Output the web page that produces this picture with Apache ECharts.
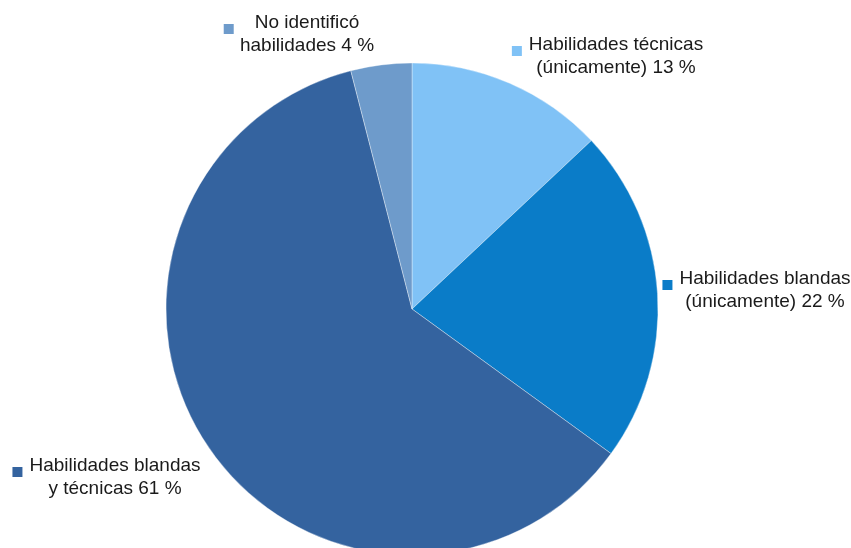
<!DOCTYPE html>
<html>
<head>
<meta charset="utf-8">
<script src="https://cdn.jsdelivr.net/npm/echarts@6/dist/echarts.min.js"></script>
<style>
html,body{margin:0;padding:0;background:#fff;}
#chart{width:851px;height:548px;}
</style>
</head>
<body>
<div id="chart"></div>
<script>
const categories = ["Habilidades técnicas (únicamente)", "Habilidades blandas (únicamente)", "Habilidades blandas y técnicas", "No identificó habilidades"];
const values = [13, 22, 61, 4];
const labelLines = [
  ["Habilidades técnicas", "(únicamente) 13 %"],
  ["Habilidades blandas", "(únicamente) 22 %"],
  ["Habilidades blandas", "y técnicas 61 %"],
  ["No identificó", "habilidades 4 %"]
];
const colors = ["#80C2F6", "#0A7CC8", "#34639F", "#6E9BCB"];
const labelPos = [[616, 56], [765, 290], [115, 477], [307, 34]];
const markerGap = [7, 7, 7, 21];

const chart = echarts.init(document.getElementById('chart'));
chart.setOption({
  animation: false,
  backgroundColor: '#ffffff',
  series: [{
    type: 'pie',
    center: [412, 309],
    radius: 246,
    startAngle: 90,
    clockwise: true,
    data: categories.map((c, i) => ({
      name: c,
      value: values[i],
      itemStyle: { color: colors[i] },
      label: {
        rich: {
          m: { width: 10, height: 10, backgroundColor: colors[i], verticalAlign: 'bottom' },
          g: { width: markerGap[i] },
          s: { width: markerGap[i] + 10 }
        }
      }
    })),
    itemStyle: { borderColor: 'rgba(255,255,255,0.6)', borderWidth: 0.6 },
    label: {
      show: true,
      overflow: 'none',
      alignTo: 'none',
      formatter: (p) => '{m|}{g|}{t|' + labelLines[p.dataIndex][0] + '}{s|}\n{t|' + labelLines[p.dataIndex][1] + '}',
      align: 'center',
      rich: {
        t: { fontFamily: 'Liberation Sans, Arial, sans-serif', fontSize: 19, color: '#1a1a1a', lineHeight: 23 }
      }
    },
    labelLine: { show: false },
    labelLayout: (params) => ({
      x: labelPos[params.dataIndex][0],
      y: labelPos[params.dataIndex][1],
      align: 'center',
      verticalAlign: 'middle'
    })
  }]
});
</script>
</body>
</html>
